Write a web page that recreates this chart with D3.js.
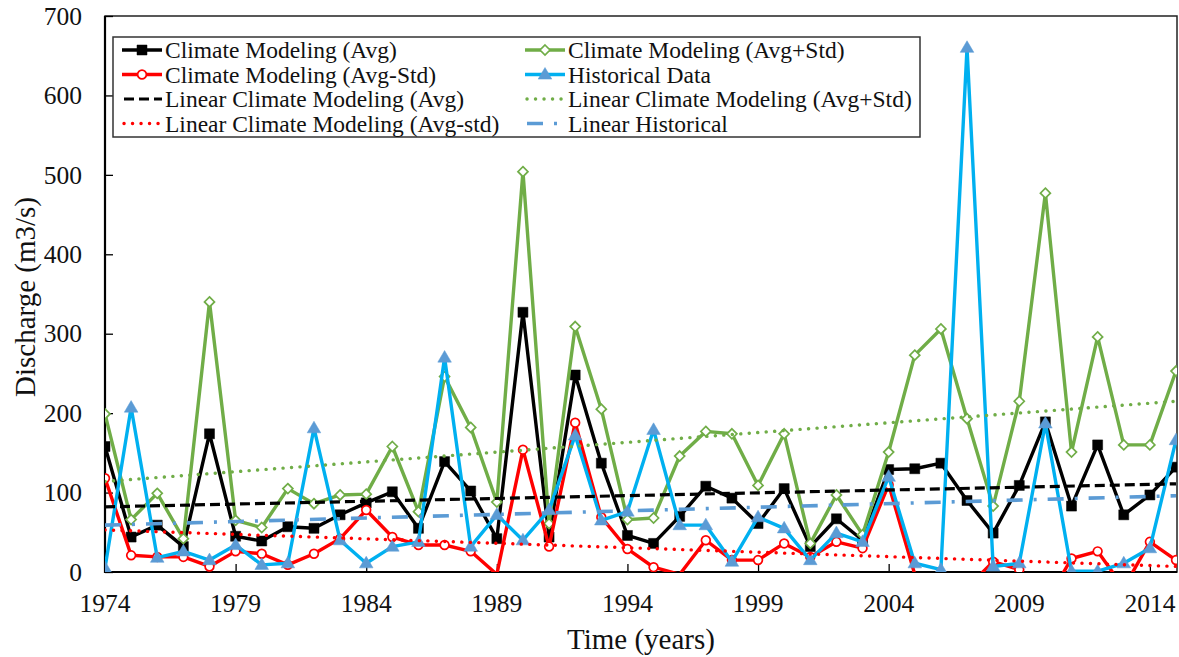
<!DOCTYPE html>
<html>
<head>
<meta charset="utf-8">
<script src="https://cdn.jsdelivr.net/npm/d3@7/dist/d3.min.js"></script>
<style>
  html, body { margin: 0; padding: 0; background: #fff; }
  svg { display: block; }
  svg text { font-family: "Liberation Serif", "Times New Roman", serif; }
</style>
</head>
<body>
<svg id="chart" width="1179" height="657"></svg>
<script>
// Annual discharge, 1974–2015
const years = [1974,1975,1976,1977,1978,1979,1980,1981,1982,1983,1984,
  1985,1986,1987,1988,1989,1990,1991,1992,1993,1994,1995,
  1996,1997,1998,1999,2000,2001,2002,2003,2004,
  2005,2006,2007,2008,2009,2010,2011,2012,2013,2014,2015];

const climateAvg = [158,44,59,32,174,45,39,57,55,72,87,
  101,55,139,102,42,327,44,248,137,46,36,
  70,108,93,61,105,32,67,40,129,
  130,137,90,49,109,189,83,160,72,97,132];

const climateAvgPlusStd = [199,66,99,42,340,65,56,105,86,97,98,
  158,76,246,182,88,504,61,309,205,66,68,
  146,177,174,109,174,36,97,47,151,
  273,306,193,83,215,477,151,296,160,160,253];

const climateAvgMinusStd = [118,21,19,19,7,26,23,9,23,42,78,
  44,34,34,26,-3,154,32,188,69,29,6,
  -3,40,15,15,36,19,38,30,110,
  -3,-25,-20,13,3,-40,17,26,-20,38,15];

const historical = [5,207,18,26,15,34,9,11,181,40,11,
  32,38,270,32,72,40,78,172,65,76,179,
  59,59,13,69,55,15,49,38,120,
  11,3,660,7,11,187,1,1,11,30,166];

// Linear trend endpoints (first and last year)
const trendYears = [1974, 2015];
const trendAvg = [82, 111];
const trendAvgPlusStd = [114, 215];
const trendAvgMinusStd = [53, 7];
const trendHistorical = [59, 96];

const yTicks = [0,100,200,300,400,500,600,700];
const xTicks = [1974,1979,1984,1989,1994,1999,2004,2009,2014];

const serif = "'Liberation Serif', 'Times New Roman', serif";
const svg = d3.select("#chart");
const plotLeft = 105, plotRight = 1176, plotTop = 16, plotBottom = 572;

const x = d3.scaleLinear().domain([1974, 2015]).range([plotLeft, plotRight]);
const y = d3.scaleLinear().domain([0, 700]).range([plotBottom, plotTop]);

svg.append("defs").append("clipPath").attr("id", "plotClip")
  .append("rect").attr("x", plotLeft).attr("y", plotTop)
  .attr("width", plotRight - plotLeft + 1).attr("height", plotBottom - plotTop);

// Plot frame
svg.append("rect").attr("x", plotLeft).attr("y", plotTop)
  .attr("width", plotRight - plotLeft + 1).attr("height", plotBottom - plotTop)
  .attr("fill", "none").attr("stroke", "#222").attr("stroke-width", 1.5);

// Y axis with inward ticks
const yAxis = svg.append("g").attr("transform", `translate(${plotLeft},0)`)
  .call(d3.axisRight(y).tickValues(yTicks).tickSize(8).tickFormat(""));
yAxis.select(".domain").remove();
yAxis.selectAll("line").attr("stroke", "#000").attr("stroke-width", 1.3);

svg.append("g").selectAll("text").data(yTicks).join("text")
  .attr("x", 82).attr("y", d => y(d)).attr("dy", "0.34em")
  .attr("font-family", serif)
  .attr("text-anchor", "end").attr("font-size", 25.5).attr("fill", "#111")
  .text(d => d);

// X axis with inward ticks
const xAxis = svg.append("g").attr("transform", `translate(0,${plotBottom})`)
  .call(d3.axisTop(x).tickValues(xTicks).tickSize(8).tickFormat(""));
xAxis.select(".domain").remove();
xAxis.selectAll("line").attr("stroke", "#000").attr("stroke-width", 1.3);

svg.append("g").selectAll("text").data(xTicks).join("text")
  .attr("x", d => x(d)).attr("y", 612)
  .attr("font-family", serif)
  .attr("text-anchor", "middle").attr("font-size", 25.5).attr("fill", "#111")
  .text(d => d);

// Axis lines
svg.append("line").attr("x1", plotLeft).attr("x2", plotLeft).attr("y1", plotTop).attr("y2", plotBottom + 1)
  .attr("stroke", "#000").attr("stroke-width", 2.2);
svg.append("line").attr("x1", plotLeft).attr("x2", plotRight + 1).attr("y1", plotBottom).attr("y2", plotBottom)
  .attr("stroke", "#000").attr("stroke-width", 2.2);

// Axis titles
svg.append("text").attr("x", 641).attr("y", 649).attr("text-anchor", "middle")
  .attr("font-family", serif)
  .attr("font-size", 29).attr("fill", "#111").text("Time (years)");
svg.append("text").attr("transform", "translate(35,297) rotate(-90)")
  .attr("font-family", serif)
  .attr("text-anchor", "middle").attr("font-size", 29).attr("fill", "#111")
  .text("Discharge (m3/s)");

const plot = svg.append("g").attr("clip-path", "url(#plotClip)");

const line = d3.line().x(d => x(d[0])).y(d => y(d[1]));

const series = [
  { name: "Climate Modeling (Avg)", values: climateAvg, color: "#000", marker: "square", mfill: "#000", mstroke: "#000" },
  { name: "Climate Modeling (Avg+Std)", values: climateAvgPlusStd, color: "#70AD47", marker: "diamond", mfill: "#fff", mstroke: "#70AD47" },
  { name: "Climate Modeling (Avg-Std)", values: climateAvgMinusStd, color: "#FF0000", marker: "circle", mfill: "#fff", mstroke: "#FF0000" },
  { name: "Historical Data", values: historical, color: "#00B0F0", marker: "triangle", mfill: "#5B9BD5", mstroke: "#5B9BD5" }
];

const trends = [
  { name: "Linear Climate Modeling (Avg)", values: trendAvg, color: "#000", width: 3.2, dash: "10,5", cap: "butt" },
  { name: "Linear Climate Modeling (Avg+Std)", values: trendAvgPlusStd, color: "#70AD47", width: 3.4, dash: "0.1,8.4", cap: "round" },
  { name: "Linear Climate Modeling (Avg-std)", values: trendAvgMinusStd, color: "#FF0000", width: 3.4, dash: "0.1,8.4", cap: "round" },
  { name: "Linear Historical", values: trendHistorical, color: "#5B9BD5", width: 3.6, dash: "16,11,3,11", cap: "butt" }
];

function markerPath(kind) {
  if (kind === "square") return d3.symbol(d3.symbolSquare, 100)();
  if (kind === "diamond") return "M0,-5L5,0L0,5L-5,0Z";
  if (kind === "circle") return d3.symbol(d3.symbolCircle, 60)();
  return "M0,-7L6.8,4.6L-6.8,4.6Z";
}

function drawMarker(g, s, cx, cy) {
  g.append("path").attr("d", markerPath(s.marker))
    .attr("transform", `translate(${cx},${cy})`)
    .attr("fill", s.mfill).attr("stroke", s.mstroke)
    .attr("stroke-width", s.marker === "square" || s.marker === "triangle" ? 0.5 : 1.7);
}

series.forEach(s => {
  const pts = years.map((yr, i) => [yr, s.values[i]]);
  const g = plot.append("g");
  g.append("path").datum(pts).attr("d", line)
    .attr("fill", "none").attr("stroke", s.color).attr("stroke-width", 3.4)
    .attr("stroke-linejoin", "round");
  pts.filter(p => p[1] >= 0).forEach(p => drawMarker(g, s, x(p[0]), y(p[1])));
});

trends.forEach(t => {
  const pts = trendYears.map((yr, i) => [yr, t.values[i]]);
  plot.append("path").datum(pts).attr("d", line)
    .attr("fill", "none").attr("stroke", t.color).attr("stroke-width", t.width)
    .attr("stroke-dasharray", t.dash).attr("stroke-linecap", t.cap);
});

// Legend
const lg = svg.append("g");
lg.append("rect").attr("x", 113).attr("y", 37).attr("width", 807).attr("height", 100)
  .attr("fill", "#fff").attr("stroke", "#333").attr("stroke-width", 1.5);

const legendItems = [
  { col: 0, row: 0, kind: "series", item: series[0] },
  { col: 1, row: 0, kind: "series", item: series[1] },
  { col: 0, row: 1, kind: "series", item: series[2] },
  { col: 1, row: 1, kind: "series", item: series[3] },
  { col: 0, row: 2, kind: "trend", item: trends[0] },
  { col: 1, row: 2, kind: "trend", item: trends[1] },
  { col: 0, row: 3, kind: "trend", item: trends[2] },
  { col: 1, row: 3, kind: "trend", item: trends[3] }
];
const colX = [122, 525];
const rowY = [50, 74.5, 99, 123.5];

legendItems.forEach(li => {
  const x0 = colX[li.col], x1 = x0 + 40, cy = rowY[li.row];
  const it = li.item;
  if (li.kind === "series") {
    lg.append("line").attr("x1", x0).attr("x2", x1).attr("y1", cy).attr("y2", cy)
      .attr("stroke", it.color).attr("stroke-width", 3.4);
    drawMarker(lg, it, (x0 + x1) / 2, cy);
  } else {
    lg.append("line").attr("x1", x0 + 2).attr("x2", x1).attr("y1", cy).attr("y2", cy)
      .attr("stroke", it.color).attr("stroke-width", it.width)
      .attr("stroke-dasharray", it.dash).attr("stroke-linecap", it.cap);
  }
  lg.append("text").attr("x", x1 + 3).attr("y", cy + 8)
    .attr("font-family", serif)
    .attr("font-size", 23.5).attr("fill", "#111").text(it.name);
});
</script>
</body>
</html>
